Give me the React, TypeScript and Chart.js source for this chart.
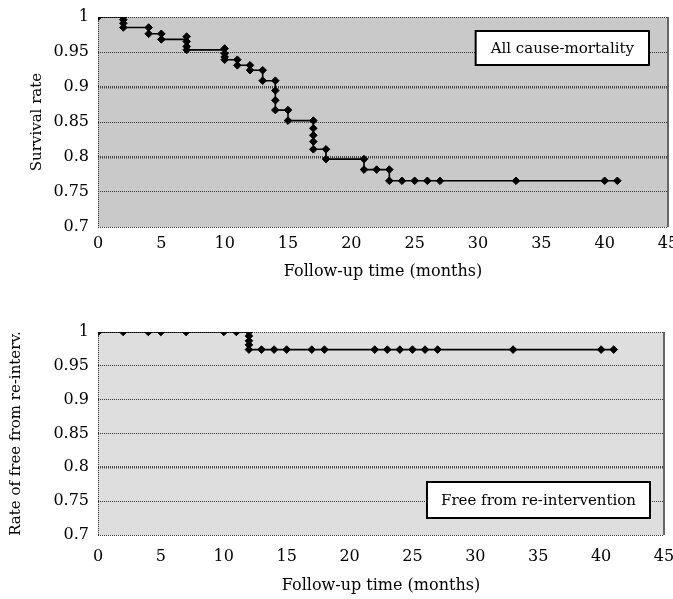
import React, { useEffect, useRef } from 'react';
import { Chart, registerables } from 'chart.js';

Chart.register(...registerables);

// ---------- data ----------
const X_TICKS = [0, 5, 10, 15, 20, 25, 30, 35, 40, 45];
const Y_TICKS = [0.7, 0.75, 0.8, 0.85, 0.9, 0.95, 1];

const X_TITLE = 'Follow-up time (months)';

// All cause-mortality (Kaplan-Meier steps)
const MORT_STEP_TIMES = [0, 2, 4, 5, 7, 10, 11, 12, 13, 14, 15, 17, 18, 21, 23, 41];
const MORT_STEP_SURV = [1, 0.985, 0.976, 0.968, 0.953, 0.939, 0.931, 0.924, 0.909, 0.867, 0.852, 0.811, 0.797, 0.782, 0.766, 0.766];
const MORT_CENSOR_TIMES = [
  0,
  2, 2, 2, 2,
  4, 4,
  5, 5,
  7, 7, 7, 7,
  10, 10, 10, 10,
  11, 11,
  12, 12,
  13, 13,
  14, 14, 14, 14,
  15, 15,
  17, 17, 17, 17, 17,
  18, 18,
  21, 21,
  22,
  23, 23,
  24, 25, 26, 27, 33, 40, 41,
];
const MORT_CENSOR_SURV = [
  1,
  1, 0.996, 0.991, 0.985,
  0.985, 0.976,
  0.976, 0.968,
  0.972, 0.965, 0.958, 0.953,
  0.955, 0.948, 0.943, 0.939,
  0.939, 0.931,
  0.931, 0.924,
  0.924, 0.909,
  0.909, 0.895, 0.881, 0.867,
  0.867, 0.852,
  0.852, 0.841, 0.831, 0.822, 0.811,
  0.811, 0.797,
  0.797, 0.782,
  0.782,
  0.782, 0.766,
  0.766, 0.766, 0.766, 0.766, 0.766, 0.766, 0.766,
];
const MORT_Y_TITLE = 'Survival rate';
const MORT_LABEL = 'All cause-mortality';
const MORT_STRONG_GRID = [0.9, 0.8];

// Free from re-intervention
const REINT_STEP_TIMES = [0, 12, 41];
const REINT_STEP_SURV = [1, 0.974, 0.974];
const REINT_CENSOR_TIMES = [
  0, 2, 4, 5, 7, 10, 11,
  12, 12, 12, 12, 12,
  13, 14, 15, 17, 18, 22, 23, 24, 25, 26, 27, 33, 40, 41,
];
const REINT_CENSOR_SURV = [
  1, 1, 1, 1, 1, 1, 1,
  1, 0.994, 0.987, 0.981, 0.974,
  0.974, 0.974, 0.974, 0.974, 0.974, 0.974, 0.974, 0.974, 0.974, 0.974, 0.974, 0.974, 0.974, 0.974,
];
const REINT_Y_TITLE = 'Rate of free from re-interv.';
const REINT_LABEL = 'Free from re-intervention';
const REINT_STRONG_GRID = [0.8];

// ---------- plugins ----------
const plotFrame = {
  id: 'plotFrame',
  beforeDraw(chart: any, _args: any, opts: any) {
    const { ctx, chartArea } = chart;
    const { left, top, right, bottom } = chartArea;
    ctx.save();
    ctx.fillStyle = opts.color;
    ctx.fillRect(left, top, right - left, bottom - top);
    ctx.restore();
  },
  beforeDatasetsDraw(chart: any) {
    const { ctx, chartArea } = chart;
    const { left, top, right, bottom } = chartArea;
    ctx.save();
    ctx.lineWidth = 1;
    ctx.strokeStyle = '#333';
    ctx.setLineDash([1, 1]);
    ctx.beginPath();
    ctx.moveTo(Math.round(left) + 0.5, top);
    ctx.lineTo(Math.round(left) + 0.5, bottom);
    ctx.stroke();
    ctx.setLineDash([]);
    ctx.strokeStyle = '#666';
    ctx.lineWidth = 2;
    ctx.beginPath();
    ctx.moveTo(Math.round(right), top);
    ctx.lineTo(Math.round(right), bottom);
    ctx.stroke();
    ctx.restore();
  },
};

const labelBox = {
  id: 'labelBox',
  afterDraw(chart: any, _args: any, opts: any) {
    const { ctx, chartArea } = chart;
    ctx.save();
    ctx.font = opts.font;
    const tw = ctx.measureText(opts.text).width;
    const w = tw + opts.padX * 2;
    const h = opts.height;
    const x = chartArea.right - opts.right - w;
    const y = opts.top != null ? chartArea.top + opts.top : chartArea.bottom - opts.bottom - h;
    ctx.fillStyle = '#fff';
    ctx.fillRect(x, y, w, h);
    ctx.strokeStyle = '#000';
    ctx.lineWidth = 2;
    ctx.strokeRect(x, y, w, h);
    ctx.fillStyle = '#000';
    ctx.textAlign = 'center';
    ctx.textBaseline = 'middle';
    ctx.fillText(opts.text, x + w / 2, y + h / 2 + 1);
    ctx.restore();
  },
};

// ---------- chart ----------
type KMProps = {
  width: number;
  height: number;
  stepTimes: number[];
  stepSurv: number[];
  censorTimes: number[];
  censorSurv: number[];
  strongGrid: number[];
  yTitle: string;
  label: string;
  bg: string;
  padTop: number;
  padRight: number;
  yAxisWidth: number;
  yTitlePad: number;
  xAxisHeight: number;
  xTickPad: number;
  xTitlePad: number;
  box: any;
};

function KMChart(p: KMProps) {
  const ref = useRef<HTMLCanvasElement | null>(null);
  useEffect(() => {
    if (!ref.current) return;
    const serif = "'DejaVu Serif', 'Liberation Serif', serif";
    const isStrong = (ctx: any) => {
      const v = ctx.tick ? ctx.tick.value : NaN;
      return p.strongGrid.some((g) => Math.abs(g - v) < 1e-6);
    };
    const chart = new Chart(ref.current, {
      type: 'scatter',
      data: {
        datasets: [
          {
            data: p.stepTimes.map((t, i) => ({ x: t, y: p.stepSurv[i] })),
            showLine: true,
            stepped: 'before',
            borderColor: '#000',
            borderWidth: 1.6,
            pointRadius: 0,
          } as any,
          {
            data: p.censorTimes.map((t, i) => ({ x: t, y: p.censorSurv[i] })),
            showLine: false,
            pointStyle: 'rectRot',
            pointRadius: 3.8,
            backgroundColor: '#000',
            borderColor: '#000',
            borderWidth: 1,
          } as any,
        ],
      },
      options: {
        responsive: false,
        animation: false,
        events: [],
        layout: { padding: { left: 0, top: p.padTop, right: p.padRight, bottom: 0 } },
        plugins: {
          legend: { display: false },
          tooltip: { enabled: false },
          plotFrame: { color: p.bg },
          labelBox: { text: p.label, font: `15px ${serif}`, ...p.box },
        } as any,
        scales: {
          x: {
            type: 'linear',
            min: 0,
            max: 45,
            afterBuildTicks: (s: any) => { s.ticks = X_TICKS.map((v) => ({ value: v })); },
            afterFit: (s: any) => { s.height = p.xAxisHeight; s.paddingLeft = 0; s.paddingRight = 0; },
            grid: { display: false, drawTicks: false },
            border: { display: false },
            ticks: {
              color: '#000',
              padding: p.xTickPad,
              maxRotation: 0,
              autoSkip: false,
              font: { family: serif, size: 16 },
              callback: (v: any) => String(v),
            },
            title: {
              display: true,
              text: X_TITLE,
              color: '#000',
              font: { family: serif, size: 16 },
              padding: { top: 0, bottom: p.xTitlePad },
            },
          },
          y: {
            type: 'linear',
            min: 0.7,
            max: 1,
            afterBuildTicks: (s: any) => { s.ticks = Y_TICKS.map((v) => ({ value: v })); },
            afterFit: (s: any) => { s.width = p.yAxisWidth; s.paddingTop = 0; s.paddingBottom = 0; },
            grid: {
              color: (c: any) => (isStrong(c) ? '#444' : '#333'),
              lineWidth: (c: any) => (isStrong(c) ? 2.5 : 1),
              drawTicks: false,
            },
            border: { display: false, dash: [1, 1] },
            ticks: {
              color: '#000',
              padding: 9,
              autoSkip: false,
              font: { family: serif, size: 16 },
              callback: (v: any) => String(Number(Number(v).toFixed(2))),
            },
            title: {
              display: true,
              text: p.yTitle,
              color: '#000',
              font: { family: serif, size: 15 },
              padding: { top: p.yTitlePad, bottom: 0 },
            },
          },
        },
      } as any,
      plugins: [plotFrame, labelBox],
    });
    return () => chart.destroy();
  }, []);
  return <canvas ref={ref} width={p.width} height={p.height} style={{ display: 'block' }} />;
}

export default function App() {
  return (
    <div style={{ position: 'fixed', left: 0, top: 0, width: 673, height: 599, background: '#fff' }}>
      <KMChart
        width={673}
        height={300}
        stepTimes={MORT_STEP_TIMES}
        stepSurv={MORT_STEP_SURV}
        censorTimes={MORT_CENSOR_TIMES}
        censorSurv={MORT_CENSOR_SURV}
        strongGrid={MORT_STRONG_GRID}
        yTitle={MORT_Y_TITLE}
        label={MORT_LABEL}
        bg="#c9c9c9"
        padTop={17}
        padRight={4}
        yAxisWidth={98}
        yTitlePad={28}
        xAxisHeight={73}
        xTickPad={7}
        xTitlePad={19}
        box={{ padX: 15, height: 34, right: 19, top: 14 }}
      />
      <KMChart
        width={673}
        height={299}
        stepTimes={REINT_STEP_TIMES}
        stepSurv={REINT_STEP_SURV}
        censorTimes={REINT_CENSOR_TIMES}
        censorSurv={REINT_CENSOR_SURV}
        strongGrid={REINT_STRONG_GRID}
        yTitle={REINT_Y_TITLE}
        label={REINT_LABEL}
        bg="#dedede"
        padTop={32}
        padRight={9}
        yAxisWidth={98}
        yTitlePad={7}
        xAxisHeight={64}
        xTickPad={12}
        xTitlePad={4}
        box={{ padX: 14, height: 36, right: 14, bottom: 17 }}
      />
    </div>
  );
}
